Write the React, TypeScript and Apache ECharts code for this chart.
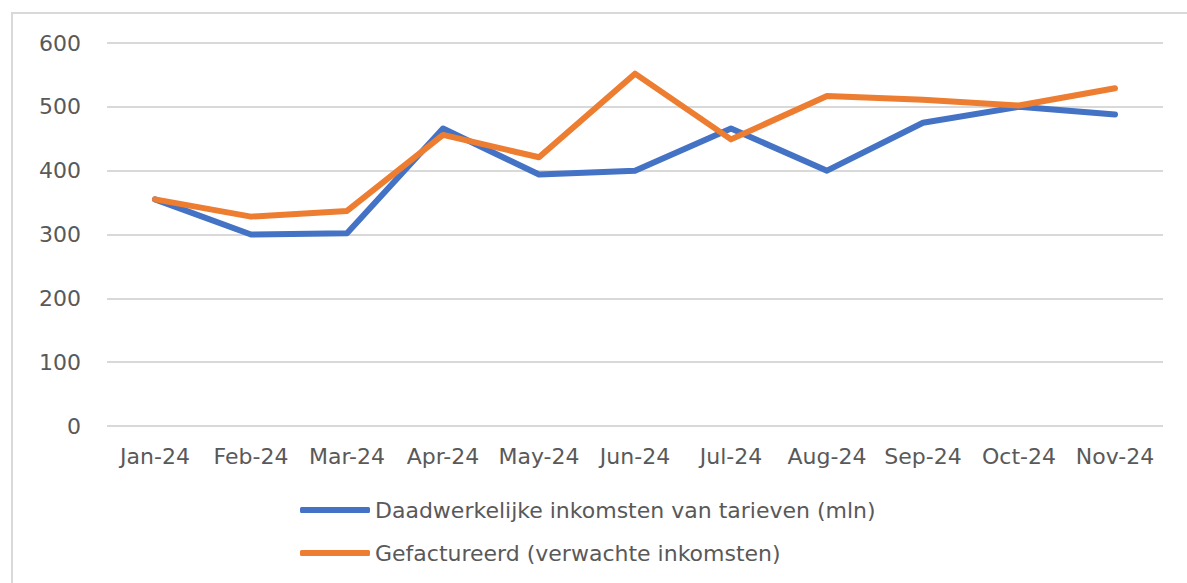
import React, { useEffect, useRef } from "react";
import * as echarts from "echarts";

const categories = ["Jan-24", "Feb-24", "Mar-24", "Apr-24", "May-24", "Jun-24", "Jul-24", "Aug-24", "Sep-24", "Oct-24", "Nov-24"];
const actualIncome = [355, 300, 302, 466, 394, 400, 466, 400, 475, 500, 488];
const invoiced = [355, 328, 337, 456, 421, 552, 449, 517, 511, 502, 529];
const seriesNames = ["Daadwerkelijke inkomsten van tarieven (mln)", "Gefactureerd (verwachte inkomsten)"];
const yTicks = { min: 0, max: 600, interval: 100 };

const FONT = "DejaVu Sans";
const TEXT = "#595959";
const FS = 22;

export default function App() {
  const ref = useRef<HTMLDivElement>(null);
  useEffect(() => {
    document.body.style.margin = "0";
    const chart = echarts.init(ref.current!, null, { renderer: "svg" });
    chart.setOption({
      animation: false,
      backgroundColor: "#ffffff",
      textStyle: { fontFamily: FONT, color: TEXT },
      graphic: [
        {
          type: "rect",
          shape: { x: 12, y: 13, width: 1300, height: 700 },
          style: { fill: "none", stroke: "#d9d9d9", lineWidth: 2 },
          silent: true,
        },
      ],
      grid: { left: 107, right: 24, top: 43, bottom: 157 },
      xAxis: {
        type: "category",
        data: categories,
        boundaryGap: true,
        axisLine: { show: false },
        axisTick: { show: false },
        axisLabel: { color: TEXT, fontSize: FS, fontFamily: FONT, margin: 19, interval: 0 },
      },
      yAxis: {
        type: "value",
        min: yTicks.min,
        max: yTicks.max,
        interval: yTicks.interval,
        axisLine: { show: false },
        axisTick: { show: false },
        splitLine: { lineStyle: { color: "#d9d9d9", width: 2 } },
        axisLabel: { color: TEXT, fontSize: FS, fontFamily: FONT, margin: 26 },
      },
      legend: {
        orient: "vertical",
        left: 295,
        top: 494,
        itemWidth: 70,
        itemHeight: 6,
        itemGap: 21,
        icon: "roundRect",
        textStyle: { color: TEXT, fontSize: FS, fontFamily: FONT, padding: [0, 0, 0, 0] },
        data: seriesNames,
      },
      series: [
        {
          name: seriesNames[0],
          type: "line",
          data: actualIncome,
          symbol: "none",
          lineStyle: { color: "#4472C4", width: 6, cap: "round", join: "round" },
          itemStyle: { color: "#4472C4" },
        },
        {
          name: seriesNames[1],
          type: "line",
          data: invoiced,
          symbol: "none",
          lineStyle: { color: "#ED7D31", width: 6, cap: "round", join: "round" },
          itemStyle: { color: "#ED7D31" },
        },
      ],
    });
    return () => chart.dispose();
  }, []);
  return <div ref={ref} style={{ width: 1187, height: 583 }} />;
}
